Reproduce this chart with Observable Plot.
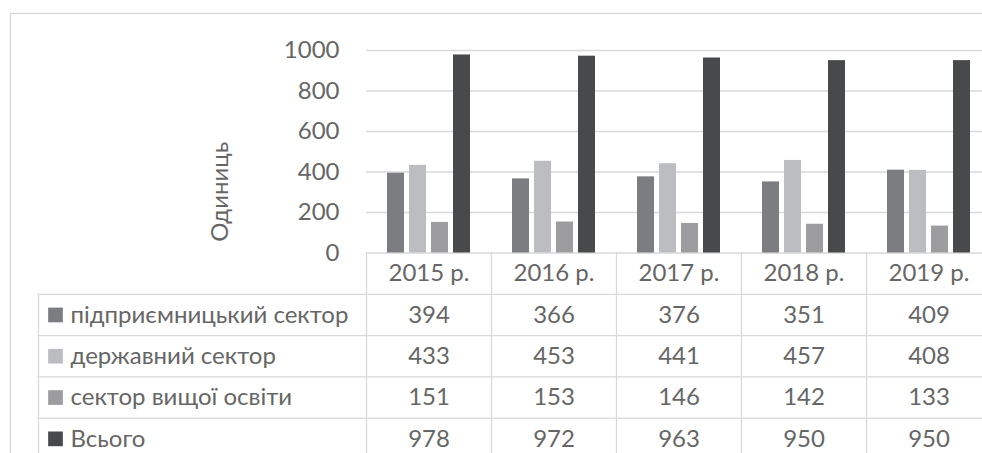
<!DOCTYPE html>
<html><head><meta charset="utf-8">
<script src="https://cdn.jsdelivr.net/npm/d3@7"></script>
<script src="https://cdn.jsdelivr.net/npm/@observablehq/plot@0.6"></script>
<style>
html,body{margin:0;padding:0;background:#fff;overflow:hidden;}
#chart{width:982px;height:453px;overflow:hidden;position:relative;background:#fff;}
</style></head><body><div id="chart"></div>
<script>
// ---- data ----
const years = ["2015 р.", "2016 р.", "2017 р.", "2018 р.", "2019 р."];
const seriesNames = ["підприємницький сектор", "державний сектор", "сектор вищої освіти", "Всього"];
const enterprise = [394, 366, 376, 351, 409];
const government = [433, 453, 441, 457, 408];
const higherEd = [151, 153, 146, 142, 133];
const total = [978, 972, 963, 950, 950];
const yTicks = [0, 200, 400, 600, 800, 1000];
const axisTitle = "Одиниць";
const colors = ["#7c7d80", "#bcbdc0", "#9d9d9f", "#48494b"];

const seriesValues = [enterprise, government, higherEd, total];
const rows = years.flatMap((year, i) =>
  seriesNames.map((s, j) => ({year, series: s, value: seriesValues[j][i]})));

// ---- layout ----
const LINE = "#d9d9d9";
const LW = 1.3;
const ROW = 41.3;
const FS = 24;
const LEFTCOL = 328; // width of the label column left of the first year column
const rowCenter = k => ROW * k + ROW / 2; // k=0 header

const tableMarks = seriesNames.flatMap((s, j) => [
  Plot.text(rows.filter(r => r.series === s), {
    fx: "year", text: d => String(d.value), frameAnchor: "bottom",
    textAnchor: "middle", lineAnchor: "middle", dy: rowCenter(j + 1), fontSize: FS
  }),
  Plot.dot([s], {
    fx: () => years[0], frameAnchor: "bottom-left", dx: -311, dy: rowCenter(j + 1),
    symbol: "square", r: 8.3, fill: d => d, stroke: "none"
  }),
  Plot.text([s], {
    fx: () => years[0], frameAnchor: "bottom-left", dx: -296, dy: rowCenter(j + 1),
    text: d => d, textAnchor: "start", lineAnchor: "middle", fontSize: FS
  })
]);

const rowLines = [1, 2, 3, 4, 5].map(k =>
  Plot.frame({facet: "super", anchor: "bottom", insetLeft: -LEFTCOL, insetRight: -10,
              insetBottom: -ROW * k, stroke: LINE, strokeWidth: LW}));

const plot = Plot.plot({
  width: 1000, height: 470,
  marginLeft: 36, marginRight: 7, marginTop: 50, marginBottom: 217.5,
  style: {fontFamily: "Lato, 'Open Sans', sans-serif", fontSize: "24px", color: "#666666",
          background: "white", maxWidth: "none", overflow: "visible"},
  fx: {domain: years, range: [364, 993], padding: 0, axis: null},
  x: {domain: seriesNames, paddingInner: 0.21, paddingOuter: 0.85, axis: null},
  y: {domain: [0, 1000]},
  color: {domain: seriesNames, range: colors},
  marks: [
    Plot.frame({facet: "super", insetLeft: -356, insetTop: -37, insetRight: -30, insetBottom: -260,
                stroke: LINE, strokeWidth: LW}),
    Plot.gridY(yTicks.filter(t => t > 0), {stroke: LINE, strokeOpacity: 1, strokeWidth: LW}),
    Plot.frame({anchor: "bottom", stroke: LINE, strokeWidth: LW}),
    Plot.frame({anchor: "left", insetTop: 202.5, insetBottom: -240, stroke: LINE, strokeWidth: LW}),
    Plot.frame({facet: "super", anchor: "left", insetLeft: -LEFTCOL, insetTop: 202.5 + ROW, insetBottom: -240,
                stroke: LINE, strokeWidth: LW}),
    ...rowLines,
    Plot.axisY(yTicks, {tickSize: 0, tickPadding: 27, fontSize: FS, label: null, tickFormat: d => String(d)}),
    Plot.text([years[0]], {
      fx: d => d, frameAnchor: "left", dx: -146, dy: 40, rotate: -90,
      text: () => axisTitle, textAnchor: "middle", lineAnchor: "middle", fontSize: FS
    }),
    Plot.barY(rows, {fx: "year", x: "series", y: "value", fill: "series"}),
    Plot.text(years, {
      fx: d => d, text: d => d, frameAnchor: "bottom",
      textAnchor: "middle", lineAnchor: "middle", dy: rowCenter(0), fontSize: FS
    }),
    ...tableMarks
  ]
});
document.getElementById("chart").append(plot);
</script></body></html>
